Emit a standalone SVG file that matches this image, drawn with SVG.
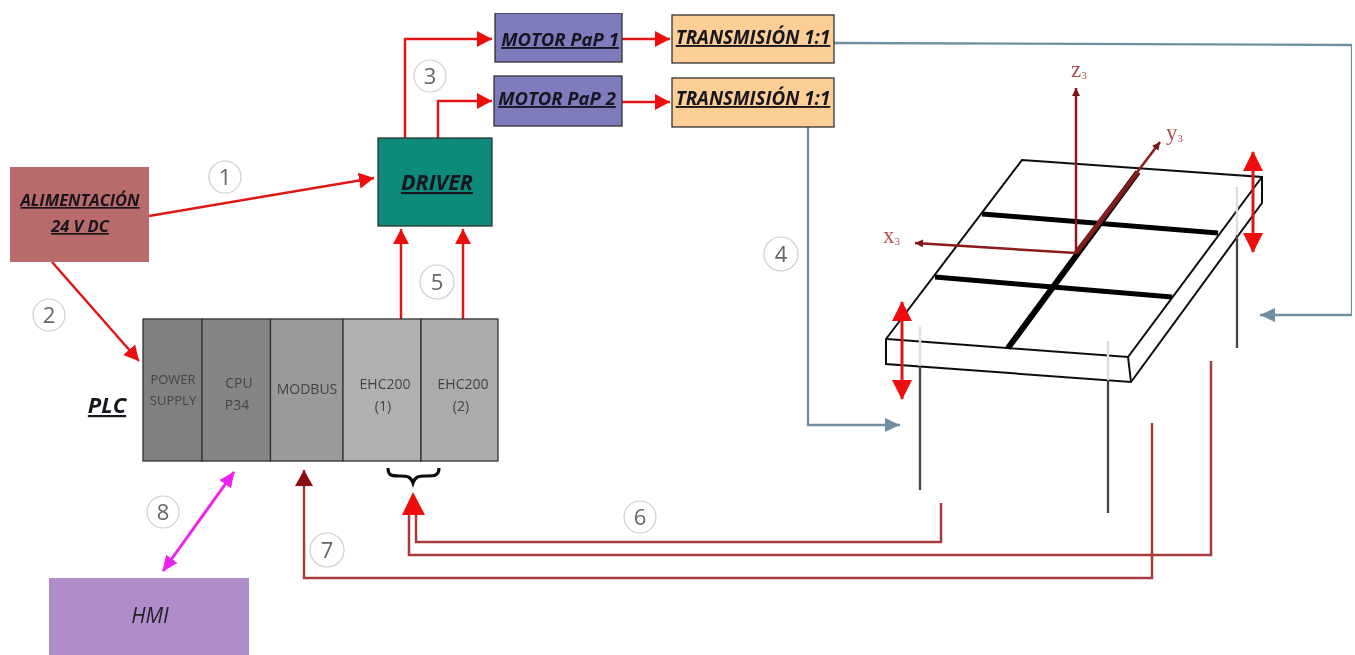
<svg xmlns="http://www.w3.org/2000/svg" width="1355" height="655" viewBox="0 0 1355 655">
<style>
text{font-family:"Open Sans","Liberation Sans",sans-serif}
.b{stroke:#333;stroke-width:1.3}
.t{font-weight:700;font-style:italic;text-decoration:underline;text-anchor:middle;fill:#15151f}
.m{font-size:14px;fill:#444;text-anchor:middle}
.c{fill:#fff;stroke:#cfcfcf;stroke-width:1.2}
.n{font-size:22px;fill:#666;text-anchor:middle}
.r{fill:none;stroke:#e01818;stroke-width:2.500}
.d{fill:none;stroke:#a63a3e;stroke-width:2.500}
.g{fill:none;stroke:#6f8fa0;stroke-width:2.300}
.k{fill:none;stroke:#111;stroke-width:2}
.h{fill:none;stroke:#000;stroke-width:5}
.l{fill:none;stroke:#444;stroke-width:2.300}
.w{fill:none;stroke:#ddd;stroke-width:2.300}
.a{fill:none;stroke:#8b1a1a;stroke-width:2.500}
.s{font-family:"Liberation Serif",serif;font-size:23px;fill:#b0504f}
</style>
<defs>
<filter id="soft" x="0" y="0" width="100%" height="100%"><feGaussianBlur stdDeviation="0.45"/></filter>
<marker id="ar" markerUnits="userSpaceOnUse" markerWidth="18" markerHeight="18" refX="15" refY="8" orient="auto"><path d="M0 0L15 8L0 16Z" fill="#ee1111"/></marker>
<marker id="abs" markerUnits="userSpaceOnUse" markerWidth="26" markerHeight="26" refX="19" refY="10" orient="auto-start-reverse"><path d="M0 0L20 10L0 20Z" fill="#ee1111"/></marker>
<marker id="ad" markerUnits="userSpaceOnUse" markerWidth="20" markerHeight="20" refX="16" refY="9" orient="auto"><path d="M0 0L16 9L0 18Z" fill="#8b0f0f"/></marker>
<marker id="as" markerUnits="userSpaceOnUse" markerWidth="10" markerHeight="10" refX="8" refY="4" orient="auto"><path d="M0 0L8 4L0 8Z" fill="#7a1414"/></marker>
<marker id="ag" markerUnits="userSpaceOnUse" markerWidth="18" markerHeight="16" refX="15" refY="7" orient="auto"><path d="M0 0L15 7L0 14Z" fill="#6f8fa0"/></marker>
<marker id="am" markerUnits="userSpaceOnUse" markerWidth="18" markerHeight="18" refX="15" refY="7" orient="auto-start-reverse"><path d="M0 0L16 7L0 14Z" fill="#ee22ee"/></marker>
</defs>
<rect width="1355" height="655" fill="#fff"/>
<g filter="url(#soft)">
<g id="table">
<path class="k" d="M1022 160L1262 177L1262 203L1131 382L886 364L886 339L1022 160Z"/>
<path class="k" d="M887 339L1128 357L1262 177M1128 357L1131 382"/>
<path class="h" d="M982 214L1218 233M935 277L1172 297"/>
<path class="h" style="stroke-width:6" d="M1008 348L1138 172"/>
<path class="w" d="M920 327V366M1108 341V380M1237 187V235"/>
<path class="l" d="M920 367V490M1108 380V513M1237 235V348"/>
<path class="a" style="stroke-width:5;stroke:#6e1a1e" d="M1076 253L1138 172"/>
<path class="a" d="M1076 253L1160 142" marker-end="url(#as)"/>
<path class="a" d="M1076 253V88" marker-end="url(#as)"/>
<path class="a" d="M1076 253L915 243" marker-end="url(#as)"/>
<path class="r" style="stroke-width:3" d="M902 302V399" marker-start="url(#abs)" marker-end="url(#abs)"/>
<path class="r" style="stroke-width:3" d="M1253 152V252" marker-start="url(#abs)" marker-end="url(#abs)"/>
<text class="s" x="883" y="243">x<tspan font-size="11" dy="2">3</tspan></text>
<text class="s" x="1071" y="77">z<tspan font-size="11" dy="2">3</tspan></text>
<text class="s" x="1166" y="140">y<tspan font-size="11" dy="2">3</tspan></text>
</g>
<g id="connectors">
<path class="r" d="M149 216L374 178" marker-end="url(#ar)"/>
<path class="r" d="M52 262L139 361" marker-end="url(#ar)"/>
<path class="r" d="M405 138V39H492" marker-end="url(#ar)"/>
<path class="r" d="M438 138V101H492" marker-end="url(#ar)"/>
<path class="r" d="M622 39H670" marker-end="url(#ar)"/>
<path class="r" d="M622 102H670" marker-end="url(#ar)"/>
<path class="r" d="M401 319V229" marker-end="url(#ar)"/>
<path class="r" d="M463 319V229" marker-end="url(#ar)"/>
<path class="g" d="M834 43L1352 45V315H1260" marker-end="url(#ag)"/>
<path class="g" d="M808 127V425H900" marker-end="url(#ag)"/>
<path class="d" d="M941 503V542H416V515"/>
<path class="d" d="M1211 361V555H409V515"/>
<path class="d" d="M1152 423V578H304V470" marker-end="url(#ad)"/>
<path d="M402 515L413 492L425 515Z" fill="#ee1111"/>
<path d="M234 472L163 571" fill="none" stroke="#ee22ee" stroke-width="3" marker-start="url(#am)" marker-end="url(#am)"/>
<path d="M388 468C388 476 392 476 400 476C408 476 411 477 413 483C415 477 418 476 426 476C434 476 439 476 439 468" fill="none" stroke="#111" stroke-width="3.200"/>
</g>
<g id="alimentacion"><rect x="10" y="167" width="139" height="95" fill="#b96a6a"/>
<text class="t" font-size="16.500" x="80" y="206">ALIMENTACIÓN</text><text class="t" font-size="16.500" x="80" y="232">24 V DC</text></g>
<g id="driver"><rect class="b" x="378" y="138" width="114" height="88" fill="#0f8a7a"/><text class="t" font-size="21.500" x="437" y="190">DRIVER</text></g>
<g id="motor1"><rect class="b" x="495" y="13" width="127" height="49" fill="#7f7bbd"/><text class="t" font-size="18.500" x="560" y="46">MOTOR PaP 1</text></g>
<g id="motor2"><rect class="b" x="494" y="76" width="128" height="50" fill="#7f7bbd"/><text class="t" font-size="18.500" x="557" y="105">MOTOR PaP 2</text></g>
<g id="trans1"><rect class="b" x="672" y="15" width="162" height="48" fill="#fdcf96"/><text class="t" font-size="18.800" x="753" y="44">TRANSMISIÓN 1:1</text></g>
<g id="trans2"><rect class="b" x="672" y="78" width="162" height="49" fill="#fdcf96"/><text class="t" font-size="18.800" x="753" y="105">TRANSMISIÓN 1:1</text></g>
<g id="plc">
<rect class="b" x="143" y="319" width="59" height="142" fill="#808080"/>
<rect class="b" x="202" y="319" width="68.500" height="142" fill="#858585"/>
<rect class="b" x="270.500" y="319" width="72.500" height="142" fill="#9a9a9a"/>
<rect class="b" x="343" y="319" width="78" height="142" fill="#b0b0b0"/>
<rect class="b" x="421" y="319" width="77" height="142" fill="#ababab"/>
<text class="m" style="font-size:13px" x="173" y="384">POWER</text><text class="m" style="font-size:13px" x="173" y="405">SUPPLY</text>
<text class="m" x="239" y="388">CPU</text><text class="m" x="237" y="410">P34</text>
<text class="m" x="307" y="394">MODBUS</text>
<text class="m" x="385" y="389">EHC200</text><text class="m" x="383" y="411">(1)</text>
<text class="m" x="463" y="389">EHC200</text><text class="m" x="461" y="411">(2)</text>
<text class="t" font-size="22" x="107" y="413">PLC</text>
</g>
<g id="hmi"><rect x="49" y="578" width="200" height="77" fill="#b08ccb"/><text font-size="21" font-style="italic" fill="#222" text-anchor="middle" x="150" y="623">HMI</text></g>
<g id="labels">
<circle class="c" cx="225" cy="177" r="16"/><text class="n" x="225" y="185">1</text>
<circle class="c" cx="49" cy="315" r="16"/><text class="n" x="49" y="323">2</text>
<circle class="c" cx="430" cy="76" r="16"/><text class="n" x="430" y="84">3</text>
<circle class="c" cx="781" cy="254" r="17"/><text class="n" x="781" y="262">4</text>
<circle class="c" cx="437" cy="282" r="17"/><text class="n" x="437" y="290">5</text>
<circle class="c" cx="640" cy="517" r="16"/><text class="n" x="640" y="525">6</text>
<circle class="c" cx="327" cy="550" r="17"/><text class="n" x="327" y="558">7</text>
<circle class="c" cx="163" cy="512" r="16"/><text class="n" x="163" y="520">8</text>
</g>
</g>
</svg>
